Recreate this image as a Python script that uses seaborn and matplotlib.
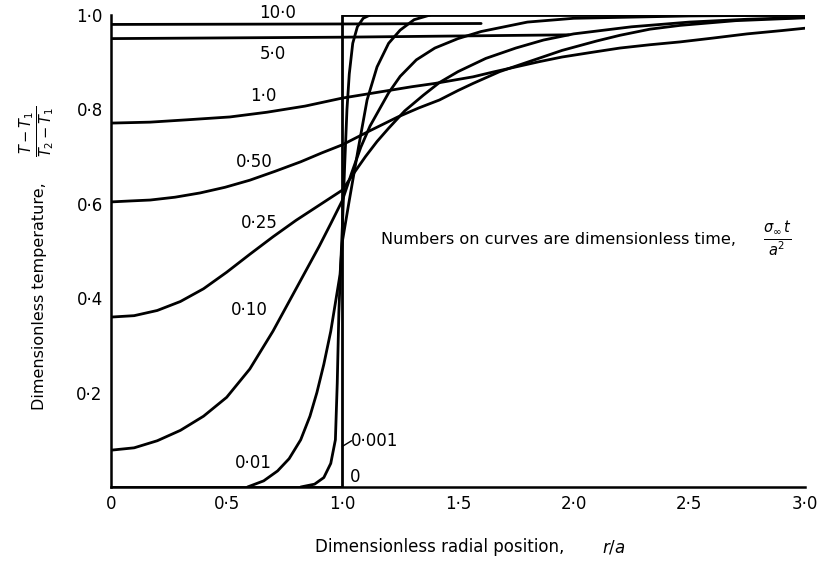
import numpy as np
import pandas as pd
import matplotlib
matplotlib.use("Agg")
import matplotlib.pyplot as plt
import seaborn as sns

# ---- curve data: dimensionless radial position r/a and temperature ----
labels = ["0", "0·001", "0·01", "0·10", "0·25", "0·50", "1·0", "5·0", "10·0"]

r_0 = [0.0, 1.0, 1.0, 3.0]
y_0 = [0.0, 0.0, 1.0, 1.0]

r_0001 = [0.82, 0.88, 0.92, 0.95, 0.97, 0.978, 0.985, 0.993, 1.0, 1.01, 1.02, 1.03,
          1.045, 1.065, 1.09, 1.12]
y_0001 = [0.0, 0.006, 0.02, 0.05, 0.10, 0.22, 0.37, 0.47, 0.55, 0.68, 0.80, 0.875,
          0.94, 0.975, 0.993, 1.0]

r_001 = [0.59, 0.66, 0.72, 0.77, 0.82, 0.86, 0.89, 0.92, 0.95, 0.97, 0.99, 1.0,
         1.03, 1.07, 1.107, 1.15, 1.2, 1.25, 1.31, 1.38]
y_001 = [0.0, 0.013, 0.034, 0.06, 0.10, 0.15, 0.20, 0.26, 0.33, 0.39, 0.45, 0.52,
         0.607, 0.72, 0.82, 0.89, 0.94, 0.968, 0.99, 1.0]

r_010 = [0.0, 0.1, 0.2, 0.3, 0.4, 0.5, 0.6, 0.65, 0.7, 0.75, 0.8, 0.85, 0.9, 0.95,
         1.0, 1.04, 1.08, 1.12, 1.16, 1.2, 1.25, 1.32, 1.4, 1.5, 1.6, 1.8, 2.0,
         2.5, 3.0]
y_010 = [0.078, 0.083, 0.098, 0.12, 0.15, 0.19, 0.25, 0.29, 0.33, 0.375, 0.42,
         0.465, 0.51, 0.558, 0.607, 0.665, 0.72, 0.765, 0.80, 0.835, 0.87, 0.905,
         0.93, 0.95, 0.965, 0.985, 0.993, 0.998, 1.0]

r_025 = [0.0, 0.1, 0.2, 0.3, 0.4, 0.5, 0.6, 0.7, 0.8, 0.9, 1.0, 1.05, 1.1, 1.15,
         1.2, 1.27, 1.35, 1.42, 1.5, 1.62, 1.75, 1.87, 2.0, 2.25, 2.5, 2.75, 3.0]
y_025 = [0.36, 0.363, 0.374, 0.393, 0.42, 0.455, 0.493, 0.53, 0.565, 0.597, 0.629,
         0.665, 0.70, 0.732, 0.76, 0.797, 0.83, 0.857, 0.88, 0.908, 0.93, 0.947,
         0.96, 0.975, 0.985, 0.991, 0.995]

r_050 = [0.0, 0.082, 0.17, 0.277, 0.385, 0.493, 0.6, 0.71, 0.82, 0.912, 1.0, 1.12,
         1.24, 1.33, 1.42, 1.5, 1.565, 1.68, 1.8, 1.95, 2.1, 2.2, 2.33, 2.46, 2.7, 3.0]
y_050 = [0.604, 0.606, 0.608, 0.614, 0.623, 0.635, 0.65, 0.669, 0.689, 0.708, 0.725,
         0.755, 0.784, 0.803, 0.82, 0.84, 0.855, 0.88, 0.90, 0.925, 0.945, 0.957,
         0.97, 0.978, 0.988, 0.994]

r_10 = [0.0, 0.169, 0.33, 0.514, 0.674, 0.839, 1.0, 1.1, 1.2, 1.3, 1.4, 1.565, 1.65,
        1.75, 1.85, 1.95, 2.08, 2.2, 2.33, 2.46, 2.6, 2.75, 2.9, 3.0]
y_10 = [0.771, 0.773, 0.778, 0.784, 0.794, 0.807, 0.824, 0.832, 0.84, 0.848, 0.855,
        0.869, 0.879, 0.89, 0.901, 0.911, 0.921, 0.93, 0.937, 0.943, 0.951, 0.96,
        0.967, 0.972]

r_50 = [0.0, 1.0, 1.98]
y_50 = [0.950, 0.953, 0.958]

r_100 = [0.0, 1.0, 1.6]
y_100 = [0.980, 0.981, 0.982]

# label anchor positions (r/a, value) for the curve numbers
lab_r = [1.055, 1.14, 0.615, 0.60, 0.64, 0.62, 0.66, 0.70, 0.72]
lab_y = [0.022, 0.098, 0.050, 0.374, 0.560, 0.688, 0.828, 0.918, 1.005]

xticks = [0.0, 0.5, 1.0, 1.5, 2.0, 2.5, 3.0]
xticklabels = ["0", "0·5", "1·0", "1·5", "2·0", "2·5", "3·0"]
yticks = [0.2, 0.4, 0.6, 0.8, 1.0]
yticklabels = ["0·2", "0·4", "0·6", "0·8", "1·0"]

curves = [(r_0, y_0), (r_0001, y_0001), (r_001, y_001), (r_010, y_010),
          (r_025, y_025), (r_050, y_050), (r_10, y_10), (r_50, y_50), (r_100, y_100)]

frames = []
for lab, (rr, yy) in zip(labels, curves):
    frames.append(pd.DataFrame({"r": rr, "theta": yy, "time": lab}))
df = pd.concat(frames, ignore_index=True)

sns.set_theme(style="white")
plt.rcParams["font.family"] = ["DejaVu Sans"]
plt.rcParams["text.color"] = "black"

W, H = 820, 561
fig = plt.figure(figsize=(W / 100, H / 100), dpi=100)
x0, x1 = 111, 805
y0, y1 = 487, 15
ax = fig.add_axes([x0 / W, 1 - y0 / H, (x1 - x0) / W, (y0 - y1) / H])

sns.lineplot(data=df, x="r", y="theta", units="time", estimator=None,
             sort=False, color="black", linewidth=2.0, ax=ax, legend=False)

ax.set_xlim(0, 3.0)
ax.set_ylim(0, 1.0)
ax.set_xticks(xticks)
ax.set_xticklabels(xticklabels)
ax.set_yticks(yticks)
ax.set_yticklabels(yticklabels)
ax.tick_params(axis="both", direction="in", length=6, width=1.2, colors="black",
               labelsize=12, pad=6)
ax.set_xlabel("")
ax.set_ylabel("")
for s in ["top", "right"]:
    ax.spines[s].set_visible(False)
for s in ["left", "bottom"]:
    ax.spines[s].set_color("black")
    ax.spines[s].set_linewidth(1.8)

for lab, lr, ly in zip(labels, lab_r, lab_y):
    ax.text(lr, ly, lab, fontsize=12, ha="center", va="center", color="black")

# leader line for the 0·001 label
ax.plot([1.0, 1.04], [0.086, 0.098], color="black", lw=1.0)

ax.text(1.165, 0.525, "Numbers on curves are dimensionless time,", fontsize=11.6,
        ha="left", va="center", color="black")
ax.text(2.88, 0.525, r"$\frac{\sigma_{\infty}\, t}{a^{2}}$", fontsize=15,
        ha="center", va="center", color="black")

fig.text(440 / W, 1 - 547 / H, "Dimensionless radial position,",
         fontsize=12, ha="center", va="center", color="black")
fig.text(614 / W, 1 - 547 / H, r"$r/a$", fontsize=12, ha="center", va="center",
         color="black")
fig.text(40 / W, 1 - 296 / H, "Dimensionless temperature,", rotation=90,
         fontsize=11.5, ha="center", va="center", color="black")
fig.text(37 / W, 1 - 131 / H, r"$\frac{T-T_1}{T_2-T_1}$", rotation=90,
         fontsize=15, ha="center", va="center", color="black")

fig.savefig("out.png", dpi=100, facecolor="white")
